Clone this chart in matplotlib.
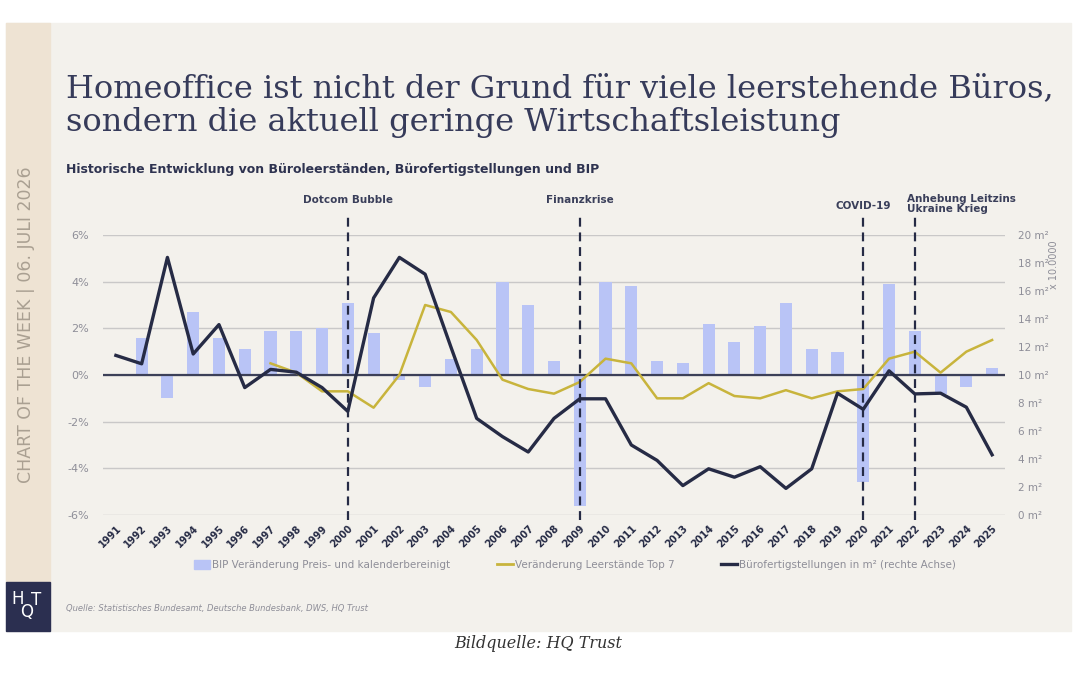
import matplotlib.pyplot as plt
import matplotlib.patches as patches

years = list(range(1991, 2026))

# BIP Veraenderung (%), left axis
bip = [None, 1.6, -1.0, 2.7, 1.6, 1.1, 1.9, 1.9, 2.0, 3.1,
       1.8, -0.2, -0.5, 0.7, 1.1, 4.0, 3.0, 0.6, -5.6, 4.0,
       3.8, 0.6, 0.5, 2.2, 1.4, 2.1, 3.1, 1.1, 1.0, -4.6,
       3.9, 1.9, -0.8, -0.5, 0.3]

# Veraenderung Leerstaende Top 7 (%), left axis, from 1997
leer_years = list(range(1997, 2026))
leer = [0.5, 0.1, -0.7, -0.7, -1.4, 0.0, 3.0, 2.7, 1.5, -0.2,
        -0.6, -0.8, -0.3, 0.7, 0.5, -1.0, -1.0, -0.35, -0.9, -1.0,
        -0.65, -1.0, -0.7, -0.6, 0.7, 1.0, 0.1, 1.0, 1.5]

# Buerofertigstellungen (m2 x 10.0000), right axis
fertig = [11.4, 10.8, 18.4, 11.5, 13.6, 9.1, 10.4, 10.2, 9.1, 7.4,
          15.5, 18.4, 17.2, 12.0, 6.9, 5.6, 4.5, 6.9, 8.3, 8.3,
          5.0, 3.9, 2.1, 3.3, 2.7, 3.45, 1.9, 3.3, 8.7, 7.55,
          10.3, 8.65, 8.7, 7.7, 4.3]

events = [2000, 2009, 2020, 2022]
event_labels = ["Dotcom Bubble", "Finanzkrise", "COVID-19", "Anhebung Leitzins\nUkraine Krieg"]

left_ticks = [-6, -4, -2, 0, 2, 4, 6]
right_ticks = [0, 2, 4, 6, 8, 10, 12, 14, 16, 18, 20]

navy = "#262b45"
bar_col = "#b9c4f6"
yellow = "#c8b43c"
grey_txt = "#8e8e98"
panel = "#f3f1ec"
strip = "#eee3d3"

W, H = 1080, 675
fig = plt.figure(figsize=(10.8, 6.75), dpi=100)
fig.patch.set_facecolor("white")

def fx(x):
    return x / W

def fy(y):
    return 1 - y / H

# background panels
fig.add_artist(patches.Rectangle((fx(6), fy(631)), fx(1071) - fx(6), fy(23) - fy(631),
                                 transform=fig.transFigure, color=panel, zorder=0))
fig.add_artist(patches.Rectangle((fx(6), fy(582)), fx(50) - fx(6), fy(23) - fy(582),
                                 transform=fig.transFigure, color=strip, zorder=0))
fig.add_artist(patches.Rectangle((fx(6), fy(631)), fx(50) - fx(6), fy(582) - fy(631),
                                 transform=fig.transFigure, color="#2b2f50", zorder=0))

ax = fig.add_axes([fx(103), fy(515), fx(1005) - fx(103), fy(235) - fy(515)])
ax.patch.set_visible(False)
ax2 = ax.twinx()
ax2.patch.set_visible(False)

# bars
bx = [y for y, v in zip(years, bip) if v is not None]
bv = [v for v in bip if v is not None]
ax.bar(bx, bv, width=0.47, color=bar_col, zorder=2)

ax.set_xlim(1990.5, 2025.5)
ax.set_ylim(-6, 6)
ax.set_yticks(left_ticks)
ax.set_yticklabels([f"{t}%" for t in left_ticks])
ax.grid(axis="y", color="#c9c8c8", lw=1.0, zorder=0)
ax.axhline(0, color="#3c4058", lw=1.6, zorder=3)
ax.plot(leer_years, leer, color=yellow, lw=1.8, zorder=4)

ax.set_xticks(years)
ax.set_xticklabels([str(y) for y in years], rotation=45, ha="right",
                   rotation_mode="anchor", fontsize=7, fontweight="bold", color=navy)
ax.tick_params(axis="x", length=0, pad=6)
ax.tick_params(axis="y", length=0, pad=10, labelsize=8, labelcolor=grey_txt)
for s in ax.spines.values():
    s.set_visible(False)

# right axis
ax2.set_ylim(0, 20)
ax2.set_yticks(right_ticks)
ax2.set_yticklabels([f"{t} m²" for t in right_ticks])
ax2.tick_params(axis="y", length=0, pad=9, labelsize=7.5, labelcolor=grey_txt)
for s in ax2.spines.values():
    s.set_visible(False)
ax2.plot(years, fertig, color=navy, lw=2.4, zorder=5)

# event lines and labels
for yr in events:
    ax2.plot([yr, yr], [-0.35, 21.6], color=navy, lw=1.6, ls=(0, (4, 2.6)),
             clip_on=False, zorder=6)
for yr, lab in zip(events, event_labels):
    if "\n" in lab:
        ax2.text(yr - 0.3, 22.2, lab, ha="left", va="center", fontsize=7.5,
                 fontweight="bold", color="#3a3f5a", linespacing=1.05)
    elif yr == 2020:
        ax2.text(yr, 22.1, lab, ha="center", va="center", fontsize=7.5,
                 fontweight="bold", color="#3a3f5a")
    else:
        ax2.text(yr, 22.5, lab, ha="center", va="center", fontsize=7.5,
                 fontweight="bold", color="#3a3f5a")

fig.text(fx(1054), fy(265), "x 10.0000", rotation=90, ha="center", va="center",
         fontsize=7, color=grey_txt)

# title block
fig.text(fx(66), fy(97), "Homeoffice ist nicht der Grund für viele leerstehende Büros,",
         fontsize=23, family="DejaVu Serif", color="#363b5a", va="baseline")
fig.text(fx(66), fy(131), "sondern die aktuell geringe Wirtschaftsleistung",
         fontsize=23, family="DejaVu Serif", color="#363b5a", va="baseline")
fig.text(fx(66), fy(170), "Historische Entwicklung von Büroleerständen, Bürofertigstellungen und BIP",
         fontsize=9, fontweight="bold", color="#2e3350", va="center")

# left strip text
fig.text(fx(26), fy(325), "CHART OF THE WEEK | 06. JULI 2026", rotation=90,
         ha="center", va="center", fontsize=12.5, color="#aaa092")

# logo
fig.text(fx(18), fy(599), "H", color="white", fontsize=12, ha="center", va="center")
fig.text(fx(27), fy(612), "Q", color="white", fontsize=12, ha="center", va="center")
fig.text(fx(36), fy(600), "T", color="white", fontsize=12, ha="center", va="center")

# legend
h1 = patches.Patch(color=bar_col)
h2 = plt.Line2D([], [], color=yellow, lw=2)
h3 = plt.Line2D([], [], color=navy, lw=2.4)
leg = fig.legend([h1, h2, h3],
                 ["BIP Veränderung Preis- und kalenderbereinigt",
                  "Veränderung Leerstände Top 7",
                  "Bürofertigstellungen in m² (rechte Achse)"],
                 loc="center", bbox_to_anchor=(fx(575), fy(565)), ncol=3,
                 frameon=False, fontsize=7.5, handlelength=1.5, handleheight=0.9,
                 handletextpad=0.2, columnspacing=4.5)
for t in leg.get_texts():
    t.set_color(grey_txt)

fig.text(fx(66), fy(609), "Quelle: Statistisches Bundesamt, Deutsche Bundesbank, DWS, HQ Trust",
         fontsize=6, style="italic", color=grey_txt, va="center")

fig.text(fx(538), fy(643), "Bildquelle: HQ Trust", fontsize=11.5, family="DejaVu Serif",
         style="italic", color="#333333", ha="center", va="center")

fig.savefig("out.png", dpi=100, facecolor="white")
